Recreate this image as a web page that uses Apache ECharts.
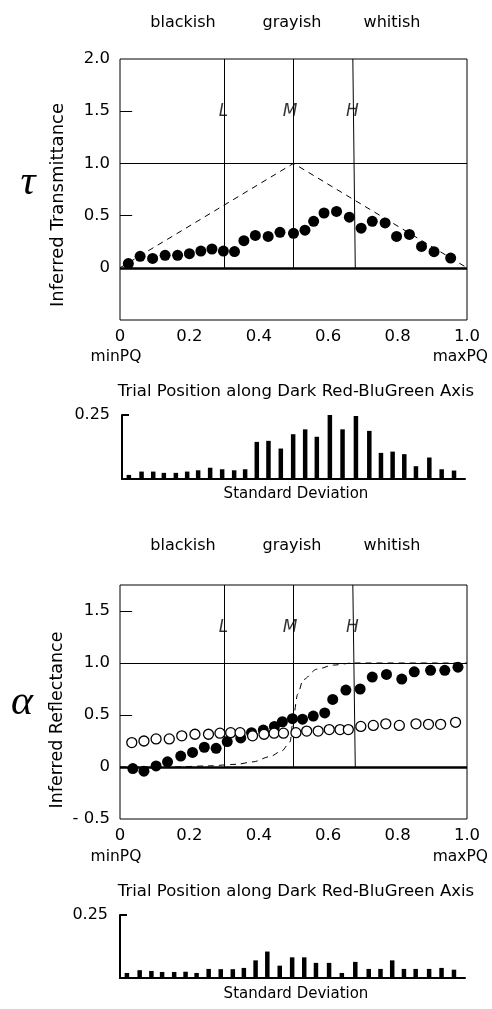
<!DOCTYPE html>
<html>
<head>
<meta charset="utf-8">
<script src="https://cdn.jsdelivr.net/npm/echarts@6/dist/echarts.min.js"></script>
<style>
  html, body { margin: 0; padding: 0; background: #fff; }
  #chart { width: 492px; height: 1009px; }
</style>
</head>
<body>
<div id="chart"></div>
<script>
// --- data ---
// upper panel: inferred transmittance
var tauX = [0.024, 0.058, 0.094, 0.13, 0.166, 0.2, 0.233, 0.265, 0.298, 0.33, 0.357, 0.39, 0.427, 0.461,
            0.5, 0.533, 0.558, 0.588, 0.624, 0.661, 0.695, 0.727, 0.764, 0.797, 0.834, 0.869, 0.905, 0.953];
var tauY = [0.04, 0.11, 0.09, 0.12, 0.12, 0.135, 0.16, 0.18, 0.16, 0.155, 0.26, 0.31, 0.30, 0.34,
            0.33, 0.36, 0.445, 0.525, 0.54, 0.485, 0.38, 0.445, 0.43, 0.30, 0.32, 0.205, 0.154, 0.093];
var tentX = [0, 0.5, 1.0];
var tentY = [0, 1.0, 0];

// standard deviation bars (same trial positions for both panels)
var sdX = [0.020, 0.057, 0.091, 0.122, 0.157, 0.19, 0.222, 0.257, 0.292, 0.327, 0.359, 0.393, 0.427, 0.463,
           0.499, 0.534, 0.568, 0.606, 0.643, 0.682, 0.721, 0.755, 0.789, 0.823, 0.857, 0.896, 0.932, 0.968];
var sdTau = [0.016, 0.029, 0.029, 0.024, 0.024, 0.029, 0.034, 0.044, 0.038, 0.034, 0.038, 0.145, 0.149, 0.119,
             0.175, 0.194, 0.165, 0.25, 0.194, 0.246, 0.188, 0.102, 0.107, 0.097, 0.05, 0.084, 0.038, 0.033];
var sdAlpha = [0.02, 0.031, 0.028, 0.024, 0.024, 0.025, 0.02, 0.036, 0.035, 0.035, 0.04, 0.07, 0.105, 0.049,
               0.082, 0.082, 0.06, 0.06, 0.02, 0.064, 0.036, 0.036, 0.07, 0.036, 0.036, 0.036, 0.04, 0.033];

// lower panel: inferred reflectance
var alphaX = [0.037, 0.069, 0.104, 0.137, 0.175, 0.209, 0.243, 0.277, 0.309, 0.348, 0.379, 0.413, 0.445, 0.468,
              0.497, 0.526, 0.557, 0.59, 0.613, 0.651, 0.692, 0.727, 0.768, 0.812, 0.848, 0.895, 0.936, 0.974];
var alphaY = [-0.015, -0.04, 0.01, 0.05, 0.105, 0.14, 0.19, 0.18, 0.245, 0.28, 0.33, 0.355, 0.39, 0.435,
              0.465, 0.46, 0.49, 0.52, 0.65, 0.74, 0.75, 0.865, 0.89, 0.845, 0.915, 0.93, 0.93, 0.96];
var openX = [0.034, 0.069, 0.104, 0.142, 0.178, 0.216, 0.255, 0.288, 0.319, 0.346, 0.382, 0.415, 0.444, 0.471,
             0.507, 0.538, 0.571, 0.603, 0.634, 0.658, 0.694, 0.73, 0.766, 0.805, 0.853, 0.889, 0.924, 0.967];
var openY = [0.235, 0.25, 0.27, 0.27, 0.3, 0.315, 0.315, 0.325, 0.33, 0.33, 0.3, 0.315, 0.325, 0.325,
             0.33, 0.345, 0.345, 0.36, 0.36, 0.36, 0.39, 0.4, 0.415, 0.4, 0.415, 0.41, 0.41, 0.43];
var curveX = [0, 0.15, 0.25, 0.336, 0.384, 0.432, 0.466, 0.49, 0.5, 0.512, 0.528, 0.567, 0.615, 0.67, 1.0];
var curveY = [0, 0, 0.01, 0.026, 0.05, 0.1, 0.154, 0.24, 0.49, 0.7, 0.84, 0.94, 0.98, 1.0, 1.0];

var zoneNames = ["blackish", "grayish", "whitish"];
var markerNames = ["L", "M", "H"];
var markerX = [0.298, 0.49, 0.67];

var FONT = "DejaVu Sans";

function pairs(xs, ys) {
  return xs.map(function (x, i) { return [x, ys[i]]; });
}

// frame lines: 1.0 line, thick zero line, inner ticks, L/M/H verticals
function frameLines(top) {
  return {
    silent: true,
    symbol: ["none", "none"],
    label: { show: false },
    lineStyle: { color: "#000", type: "solid", width: 1 },
    data: [
      { yAxis: 1.0 },
      { yAxis: 0, lineStyle: { width: 2.6, color: "#000", type: "solid" } },
      [{ coord: [0, 1.5] }, { coord: [0.035, 1.5] }],
      [{ coord: [0, 0.5] }, { coord: [0.035, 0.5] }],
      [{ coord: [0.3, 0] }, { coord: [0.3, top] }],
      [{ coord: [0.498, 0] }, { coord: [0.498, top] }],
      [{ coord: [0.678, 0] }, { coord: [0.671, top] }],
    ],
  };
}

function mainX(grid) {
  return {
    type: "value", gridIndex: grid, min: 0, max: 1, interval: 0.2,
    axisLine: { show: false }, axisTick: { show: false }, splitLine: { show: false },
    axisLabel: {
      color: "#000", fontSize: 16.5, fontFamily: FONT, margin: 8,
      formatter: function (v) { return v === 0 ? "0" : v.toFixed(1); },
    },
  };
}

function mainY(grid, max, showLow) {
  return {
    type: "value", gridIndex: grid, min: -0.5, max: max, interval: 0.5,
    axisLine: { show: false }, axisTick: { show: false }, splitLine: { show: false },
    axisLabel: {
      color: "#000", fontSize: 16.5, fontFamily: FONT, margin: 10,
      formatter: function (v) {
        if (v === 0) return "0";
        if (v === -0.5) return showLow ? "- 0.5" : "";
        if (Math.abs(v * 2 - Math.round(v * 2)) > 1e-6) return "";
        return v.toFixed(1);
      },
    },
  };
}

function sdXAxis(grid) {
  return {
    type: "value", gridIndex: grid, min: 0, max: 1,
    axisLine: { show: true, lineStyle: { color: "#000", width: 2 } },
    axisTick: { show: false }, axisLabel: { show: false }, splitLine: { show: false },
  };
}

function sdYAxis(grid) {
  return {
    type: "value", gridIndex: grid, min: 0, max: 0.25, interval: 0.25,
    axisLine: { show: true, lineStyle: { color: "#000", width: 2 } },
    axisTick: { show: true, inside: true, length: 7, lineStyle: { color: "#000", width: 2 } },
    splitLine: { show: false },
    axisLabel: {
      color: "#000", fontSize: 16, fontFamily: FONT, margin: 12,
      formatter: function (v) { return v === 0.25 ? "0.25" : ""; },
    },
  };
}

function letters(xi, yi, y) {
  return {
    type: "scatter", xAxisIndex: xi, yAxisIndex: yi, symbolSize: 0, silent: true, z: 4,
    data: markerX.map(function (x, i) { return { value: [x, y], name: markerNames[i] }; }),
    label: {
      show: true, position: "inside", formatter: "{b}", color: "#000",
      fontSize: 17, fontStyle: "italic", fontFamily: FONT,
    },
  };
}

function txt(t, x, y, size, extra) {
  var s = { text: t, x: x, y: y, fill: "#000", fontSize: size, fontFamily: FONT, align: "center", verticalAlign: "middle" };
  for (var k in extra) s[k] = extra[k];
  return { type: "text", style: s, z: 10 };
}

var graphics = [];
var zoneY = [23, 546];
[0, 500].forEach(function (dy, p) {
  var zx = [183, 292, 392];
  zoneNames.forEach(function (n, i) { graphics.push(txt(n, zx[i], zoneY[p], 16)); });
  graphics.push(txt("minPQ", 116, 357 + dy, 15.5));
  graphics.push(txt("maxPQ", 488, 357 + dy, 15.5, { align: "right" }));
  graphics.push(txt("Trial Position along Dark Red-BluGreen Axis", 296, 392 + dy, 16.5));
  graphics.push(txt("Standard Deviation", 296, 494 + dy, 15));
});
graphics.push(txt("\u03c4", 28, 183, 42, { fontFamily: "Liberation Serif", fontStyle: "italic" }));
graphics.push(txt("\u03b1", 22, 703, 42, { fontFamily: "Liberation Serif", fontStyle: "italic" }));
graphics.push({ type: "text", rotation: Math.PI / 2, x: 58, y: 205,
  style: { text: "Inferred Transmittance", fill: "#000", fontSize: 18, fontFamily: FONT, align: "center", verticalAlign: "middle" } });
graphics.push({ type: "text", rotation: Math.PI / 2, x: 57, y: 720,
  style: { text: "Inferred Reflectance", fill: "#000", fontSize: 17.5, fontFamily: FONT, align: "center", verticalAlign: "middle" } });

var chart = echarts.init(document.getElementById("chart"), null, { renderer: "canvas" });
chart.setOption({
  animation: false,
  backgroundColor: "#fff",
  grid: [
    { left: 120, top: 59, width: 347, height: 261, show: true, borderColor: "#000", borderWidth: 1, backgroundColor: "transparent" },
    { left: 122, top: 415, width: 343, height: 64 },
    { left: 120, top: 585, width: 347, height: 234, show: true, borderColor: "#000", borderWidth: 1, backgroundColor: "transparent" },
    { left: 120, top: 915, width: 345, height: 63 },
  ],
  xAxis: [mainX(0), sdXAxis(1), mainX(2), sdXAxis(3)],
  yAxis: [mainY(0, 2.0, false), sdYAxis(1), mainY(2, 1.75, true), sdYAxis(3)],
  graphic: graphics,
  series: [
    {
      type: "line", xAxisIndex: 0, yAxisIndex: 0, data: pairs(tentX, tentY), symbol: "none", silent: true,
      lineStyle: { color: "#000", width: 1, type: [6, 5] }, z: 2,
      markLine: frameLines(2.0),
    },
    {
      type: "scatter", xAxisIndex: 0, yAxisIndex: 0, data: pairs(tauX, tauY), symbolSize: 11,
      itemStyle: { color: "#000", opacity: 1 }, z: 5,
    },
    letters(0, 0, 1.5),
    {
      type: "bar", xAxisIndex: 1, yAxisIndex: 1, data: pairs(sdX, sdTau), barWidth: 4.5,
      itemStyle: { color: "#000" },
    },
    {
      type: "line", xAxisIndex: 2, yAxisIndex: 2, data: pairs(curveX, curveY), symbol: "none", silent: true,
      smooth: 0.3, smoothMonotone: "x",
      lineStyle: { color: "#000", width: 1, type: [6, 5] }, z: 2,
      markLine: frameLines(1.75),
    },
    {
      type: "scatter", xAxisIndex: 2, yAxisIndex: 2, data: pairs(alphaX, alphaY), symbolSize: 11,
      itemStyle: { color: "#000", opacity: 1 }, z: 5,
    },
    {
      type: "scatter", xAxisIndex: 2, yAxisIndex: 2, data: pairs(openX, openY), symbolSize: 10,
      itemStyle: { color: "#fff", borderColor: "#000", borderWidth: 1.3, opacity: 1 }, z: 6,
    },
    letters(2, 2, 1.34),
    {
      type: "bar", xAxisIndex: 3, yAxisIndex: 3, data: pairs(sdX, sdAlpha), barWidth: 4.5,
      itemStyle: { color: "#000" },
    },
  ],
});
</script>
</body>
</html>
